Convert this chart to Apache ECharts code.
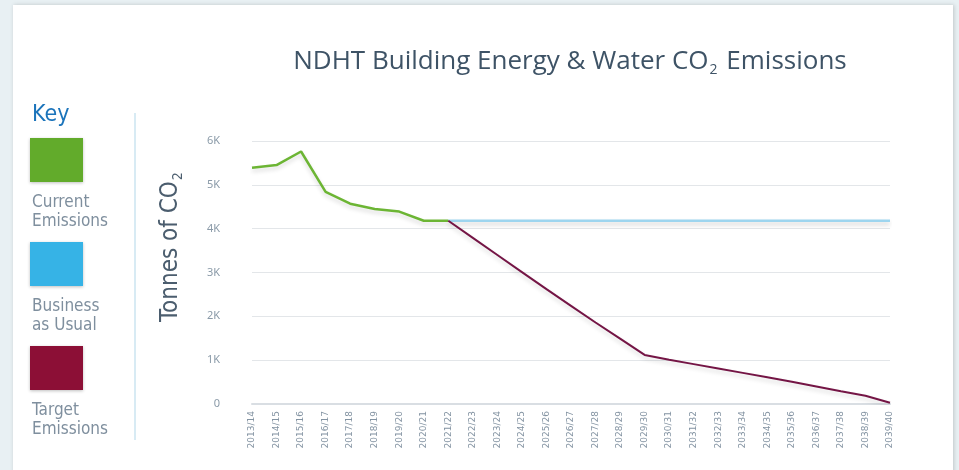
<!DOCTYPE html>
<html>
<head>
<meta charset="utf-8">
<script src="https://cdn.jsdelivr.net/npm/echarts@6/dist/echarts.min.js"></script>
<style>
  html, body { margin: 0; padding: 0; background: #e8f0f3; }
  #chart { width: 959px; height: 470px; }
</style>
</head>
<body>
<div id="chart"></div>
<script>
// Financial years on the x axis
const years = [
  "2013/14", "2014/15", "2015/16", "2016/17", "2017/18", "2018/19", "2019/20",
  "2020/21", "2021/22", "2022/23", "2023/24", "2024/25", "2025/26", "2026/27",
  "2027/28", "2028/29", "2029/30", "2030/31", "2031/32", "2032/33", "2033/34",
  "2034/35", "2035/36", "2036/37", "2037/38", "2038/39", "2039/40"
];

// Tonnes of CO2 ("-" = no value that year)
const currentEmissions = [
  5390, 5450, 5760, 4840, 4570, 4450, 4390, 4180, 4180,
  "-", "-", "-", "-", "-", "-", "-", "-", "-", "-", "-", "-", "-", "-", "-", "-", "-", "-"
];
const businessAsUsual = [
  "-", "-", "-", "-", "-", "-", "-", "-", 4180,
  4180, 4180, 4180, 4180, 4180, 4180, 4180, 4180, 4180,
  4180, 4180, 4180, 4180, 4180, 4180, 4180, 4180, 4180
];
const targetEmissions = [
  "-", "-", "-", "-", "-", "-", "-", "-", 4180,
  3790, 3400, 3010, 2620, 2240, 1860, 1490, 1120, 1010,
  910, 810, 710, 610, 510, 400, 290, 190, 30
];

const yTicks = { min: 0, max: 6000, interval: 1000 };

const keyItems = [
  { label: "Current\nEmissions", color: "#62ab2b" },
  { label: "Business\nas Usual", color: "#36b3e6" },
  { label: "Target\nEmissions", color: "#8c0f36" }
];

const dom = document.getElementById("chart");
const myChart = echarts.init(dom, null, { renderer: "canvas" });

const keyFont = "'Liberation Sans Narrow', 'DejaVu Sans Condensed', 'Roboto', sans-serif";
const titleFont = "'Open Sans', 'Noto Sans', sans-serif";

// Key panel on the left, built as graphic elements
const keyGraphics = [];
keyItems.forEach((k, i) => {
  const top = 138 + i * 104;
  keyGraphics.push({
    type: "rect",
    shape: { x: 30, y: top, width: 53, height: 44 },
    style: {
      fill: k.color,
      shadowBlur: 3, shadowColor: "rgba(0,0,0,0.25)", shadowOffsetY: 1
    }
  });
  keyGraphics.push({
    type: "text",
    x: 32, y: top + 55,
    style: {
      text: k.label,
      font: "17px " + keyFont,
      fill: "#7f8f9e",
      lineHeight: 19
    }
  });
});

const option = {
  animation: false,
  graphic: [
    // white card
    {
      type: "rect", z: -10,
      shape: { x: 13, y: 5, width: 940, height: 480 },
      style: { fill: "#ffffff", shadowBlur: 4, shadowColor: "rgba(0,0,0,0.18)", shadowOffsetX: 1 }
    },
    // divider
    {
      type: "line",
      shape: { x1: 135, y1: 113, x2: 135, y2: 440 },
      style: { stroke: "#d8ebf4", lineWidth: 2 }
    },
    {
      type: "text", x: 32, y: 104,
      style: { text: "Key", font: "23px " + keyFont, fill: "#1b74bb" }
    },
    // y axis name
    {
      type: "text", x: 156, y: 322, rotation: Math.PI / 2,
      style: {
        text: "{a|Tonnes of CO}{s|2}",
        rich: {
          a: { font: "24px " + keyFont, fill: "#4b5d6e" },
          s: { font: "14px " + keyFont, fill: "#4b5d6e", padding: [15, 0, 0, 1] }
        }
      }
    },
    ...keyGraphics
  ],
  title: {
    text: "{a|NDHT Building Energy & Water CO}{s|2}{a| Emissions}",
    left: 565, top: 41, textAlign: "center",
    textStyle: {
      rich: {
        a: { fontFamily: titleFont, fontSize: 26, fontWeight: "normal", color: "#3e5366" },
        s: { fontFamily: titleFont, fontSize: 14, fontWeight: "normal", color: "#3e5366", padding: [17, 2, 0, 1] }
      }
    }
  },
  grid: { left: 252, right: 69, top: 141, bottom: 66, containLabel: false },
  xAxis: {
    type: "category",
    boundaryGap: false,
    data: years,
    axisLine: { lineStyle: { color: "#d9dee3", width: 2 } },
    axisTick: { show: false },
    axisLabel: {
      rotate: 90, interval: 0, margin: 7,
      fontSize: 9, color: "#8393a2", fontFamily: "'Liberation Sans Narrow', 'DejaVu Sans', sans-serif"
    }
  },
  yAxis: {
    type: "value",
    min: yTicks.min, max: yTicks.max, interval: yTicks.interval,
    axisLine: { show: false },
    axisTick: { show: false },
    splitLine: { lineStyle: { color: "#e3e6e9", width: 1 } },
    axisLabel: {
      margin: 32, fontSize: 11, color: "#8a9aa8", fontFamily: "'Noto Sans', sans-serif",
      formatter: (v) => v === 0 ? "0" : (v / 1000) + "K"
    }
  },
  series: [
    {
      name: "Business as Usual", type: "line", data: businessAsUsual,
      symbol: "none", z: 2,
      lineStyle: { color: "#9dd5ef", width: 2.5, shadowColor: "rgba(0,0,0,0.18)", shadowBlur: 4, shadowOffsetY: 3 }
    },
    {
      name: "Current Emissions", type: "line", data: currentEmissions,
      symbol: "none", z: 3,
      lineStyle: { color: "#6cb534", width: 2.5, shadowColor: "rgba(0,0,0,0.15)", shadowBlur: 4, shadowOffsetY: 3 }
    },
    {
      name: "Target Emissions", type: "line", data: targetEmissions,
      symbol: "none", z: 4,
      lineStyle: { color: "#741545", width: 2, shadowColor: "rgba(0,0,0,0.15)", shadowBlur: 4, shadowOffsetY: 3 }
    }
  ]
};

myChart.setOption(option);
</script>
</body>
</html>
